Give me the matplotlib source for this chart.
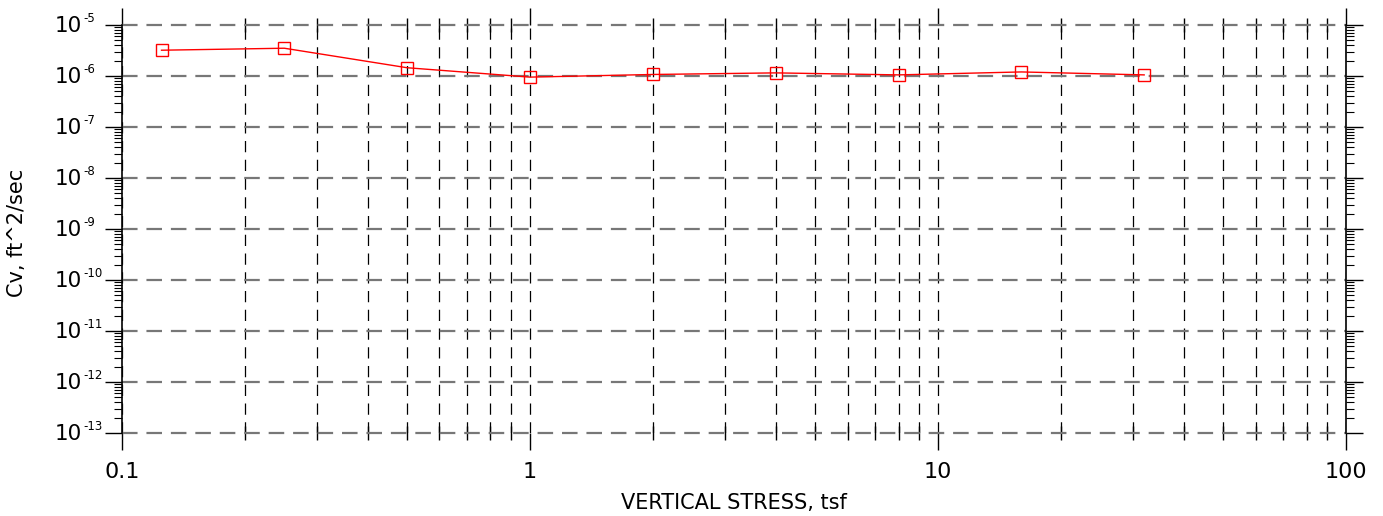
import matplotlib
matplotlib.use("Agg")
import matplotlib.pyplot as plt
from matplotlib.ticker import LogLocator, FixedLocator, FuncFormatter, NullFormatter

# data
stress = [0.125, 0.25, 0.5, 1, 2, 4, 8, 16, 32]
cv = [3.2e-6, 3.5e-6, 1.45e-6, 0.95e-6, 1.07e-6, 1.15e-6, 1.05e-6, 1.2e-6, 1.05e-6]

x_ticks = [0.1, 1, 10, 100]
x_labels = ["0.1", "1", "10", "100"]
y_exps = list(range(-13, -4))

plt.rcParams['font.family'] = ['DejaVu Sans']

fig = plt.figure(figsize=(13.83, 5.16), dpi=100)
ax = fig.add_axes([0.0882, 0.1609, 0.8851, 0.7907])

ax.set_xscale('log')
ax.set_yscale('log')
ax.set_xlim(0.1, 100)
ax.set_ylim(1e-13, 1e-5)

ax.xaxis.set_major_locator(FixedLocator(x_ticks))
ax.xaxis.set_minor_locator(LogLocator(base=10, subs=range(2, 10)))
ax.yaxis.set_major_locator(FixedLocator([10.0 ** e for e in y_exps]))
ax.yaxis.set_minor_locator(LogLocator(base=10, subs=range(2, 10), numticks=20))

# vertical grid: black thin dashes at majors+minors; horizontal: gray thicker dashes
ax.grid(True, which='both', axis='x', color='black', linestyle=(0, (9, 6)), linewidth=0.9)
ax.grid(True, which='major', axis='y', color='#777777', linestyle=(0, (7, 4)), linewidth=1.6)
ax.set_axisbelow(True)

ax.plot(stress, cv, color='red', linewidth=1.0, marker='s', markersize=8,
        markerfacecolor='none', markeredgecolor='red', markeredgewidth=1.0, zorder=5)

ax.xaxis.set_major_formatter(FuncFormatter(lambda v, p: x_labels[x_ticks.index(v)] if v in x_ticks else ""))
ax.xaxis.set_minor_formatter(NullFormatter())
ax.yaxis.set_major_formatter(NullFormatter())
ax.yaxis.set_minor_formatter(NullFormatter())

# y tick labels as "10" with a small raised exponent
for e in y_exps:
    ax.annotate("10", xy=(0, 10.0 ** e), xycoords=('axes fraction', 'data'),
                xytext=(-40, -7.5), textcoords='offset pixels', ha='right', va='baseline',
                fontsize=15.5, annotation_clip=False)
    ax.annotate(str(e), xy=(0, 10.0 ** e), xycoords=('axes fraction', 'data'),
                xytext=(-39, 2.5), textcoords='offset pixels', ha='left', va='baseline',
                fontsize=8.5, annotation_clip=False)

ax.tick_params(axis='x', which='major', direction='out', length=12, width=1.0, top=True,
               labelsize=16, pad=9, color='black')
ax.tick_params(axis='x', which='minor', direction='inout', length=10, width=1.0, top=True, color='black')
ax.tick_params(axis='y', which='major', direction='out', length=12, width=1.0, right=True, color='black')
ax.tick_params(axis='y', which='minor', direction='out', length=6, width=0.8, right=True, color='black')

for s in ['top', 'bottom']:
    ax.spines[s].set_visible(False)
for s in ['left', 'right']:
    ax.spines[s].set_linewidth(1.2)

ax.set_xlabel("VERTICAL STRESS, tsf", fontsize=15, labelpad=8)
ax.set_ylabel("Cv, ft^2/sec", fontsize=15)
ax.yaxis.set_label_coords(-0.078, 0.49)

fig.canvas.draw()
for gl in ax.yaxis.get_gridlines():
    gl.set_clip_on(False)

fig.savefig("out.png", dpi=100)
